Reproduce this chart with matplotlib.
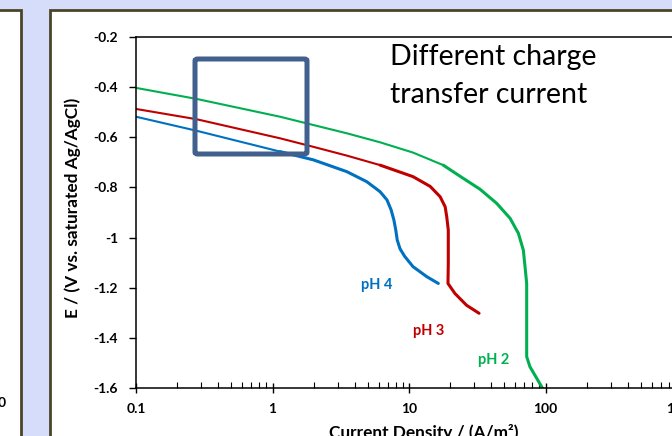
import matplotlib
matplotlib.use("Agg")
import matplotlib.pyplot as plt
from matplotlib.patches import Rectangle, FancyBboxPatch

plt.rcParams['font.family'] = ['Lato', 'DejaVu Sans']

# polarisation curves (current density A/m2, potential V)
i_ph2 = [0.1, 0.278, 1.135, 1.99, 3.50, 6.14, 10.7, 17.8, 25.0, 33.1, 43.8, 55, 63.3, 68.8,
         70.8, 72.8, 72.8, 72.8, 76.9, 93.7, 97]
e_ph2 = [-0.403, -0.447, -0.518, -0.551, -0.584, -0.620, -0.661, -0.711, -0.764, -0.807,
         -0.863, -0.923, -0.983, -1.050, -1.116, -1.183, -1.316, -1.475, -1.515, -1.595, -1.61]

i_ph3 = [0.1, 0.278, 1.135, 1.99, 3.50, 6.14, 10.7, 14.3, 16.9, 18.4, 18.9, 19.4, 19.4, 19.3,
         21.7, 26.4, 32.6]
e_ph3 = [-0.487, -0.528, -0.604, -0.638, -0.673, -0.711, -0.757, -0.796, -0.837, -0.877,
         -0.917, -0.970, -1.103, -1.183, -1.223, -1.270, -1.302]

i_ph4 = [0.1, 0.278, 1.135, 1.99, 3.50, 4.9, 6.14, 6.9, 7.4, 7.75, 8.0, 8.2, 8.6, 9.3, 10.7,
         13.5, 16.4]
e_ph4 = [-0.518, -0.574, -0.657, -0.690, -0.737, -0.777, -0.817, -0.850, -0.890, -0.930,
         -0.970, -1.010, -1.045, -1.075, -1.116, -1.156, -1.183]

# name, x, y, colour, label position, index where the trace gets thicker
series = [
    ('pH 2', i_ph2, e_ph2, '#00B050', (42, -1.49), 7),
    ('pH 3', i_ph3, e_ph3, '#C00000', (14.0, -1.372), 5),
    ('pH 4', i_ph4, e_ph4, '#0070C0', (5.8, -1.189), 2),
]

W, H = 672, 436
fig = plt.figure(figsize=(W / 100, H / 100), dpi=100, facecolor='#D5DDFA')

# slide panels behind the chart
border = '#4A4528'
fig.patches.append(Rectangle((-10 / W, -10 / H), 31 / W, 1, transform=fig.transFigure,
                             facecolor='white', edgecolor=border, linewidth=2, zorder=-2))
fig.patches.append(Rectangle((50 / W, -10 / H), (W + 20) / W, 1, transform=fig.transFigure,
                             facecolor='white', edgecolor=border, linewidth=2, zorder=-2))
fig.text(6 / W, 1 - 403 / H, '0', ha='right', va='center', fontsize=10, fontweight='bold')

ax = fig.add_axes([136 / W, 1 - 388 / H, (682 - 136) / W, (388 - 37) / H])
ax.set_zorder(2)
ax.set_facecolor('white')

for name, x, y, c, pos, k in series:
    ax.plot(x[:k + 1], y[:k + 1], color=c, lw=1.5, solid_capstyle='round')
    ax.plot(x[k:], y[k:], color=c, lw=2.2, solid_capstyle='round', solid_joinstyle='round')
    ax.text(pos[0], pos[1], name, color=c, fontsize=10.5, fontweight='bold', ha='center', va='center')

ax.set_xscale('log')
ax.set_xlim(0.1, 1000)
ax.set_ylim(-1.6, -0.2)
ax.set_yticks([-1.6, -1.4, -1.2, -1.0, -0.8, -0.6, -0.4, -0.2])
ax.set_yticklabels(['-1.6', '-1.4', '-1.2', '-1', '-0.8', '-0.6', '-0.4', '-0.2'])
ax.set_xticks([0.1, 1, 10, 100, 1000])
ax.set_xticklabels(['0.1', '1', '10', '100', '1000'])

for lab in ax.get_xticklabels() + ax.get_yticklabels():
    lab.set_fontweight('bold')
ax.tick_params(axis='both', labelsize=10, colors='black')
ax.tick_params(axis='x', which='major', direction='inout', length=7, width=1, pad=7)
ax.tick_params(axis='x', which='minor', direction='in', length=4, width=0.8)
ax.tick_params(axis='y', which='major', direction='out', length=5, width=1, pad=8)
for s in ax.spines.values():
    s.set_linewidth(1.1)

fig.text(73 / W, 1 - 208 / H, 'E / (V vs. saturated Ag/AgCl)', rotation=90, ha='center', va='center',
         fontsize=12.4, fontweight='bold')
fig.text(424 / W, 1 - 432 / H, 'Current Density / (A/m²)', ha='center', va='center',
         fontsize=12.4, fontweight='bold')

fig.text(390 / W, 1 - 76 / H, 'Different charge\ntransfer current', ha='left', va='center',
         fontsize=20.5, linespacing=1.58)

# highlight box
fig.patches.append(FancyBboxPatch((195 / W, 1 - 154 / H), 112 / W, 95 / H, transform=fig.transFigure,
                                  boxstyle='round,pad=0,rounding_size=0.004', facecolor='none',
                                  edgecolor='#41608D', linewidth=3.6, zorder=5))

fig.savefig('out.png', dpi=100, facecolor=fig.get_facecolor())
